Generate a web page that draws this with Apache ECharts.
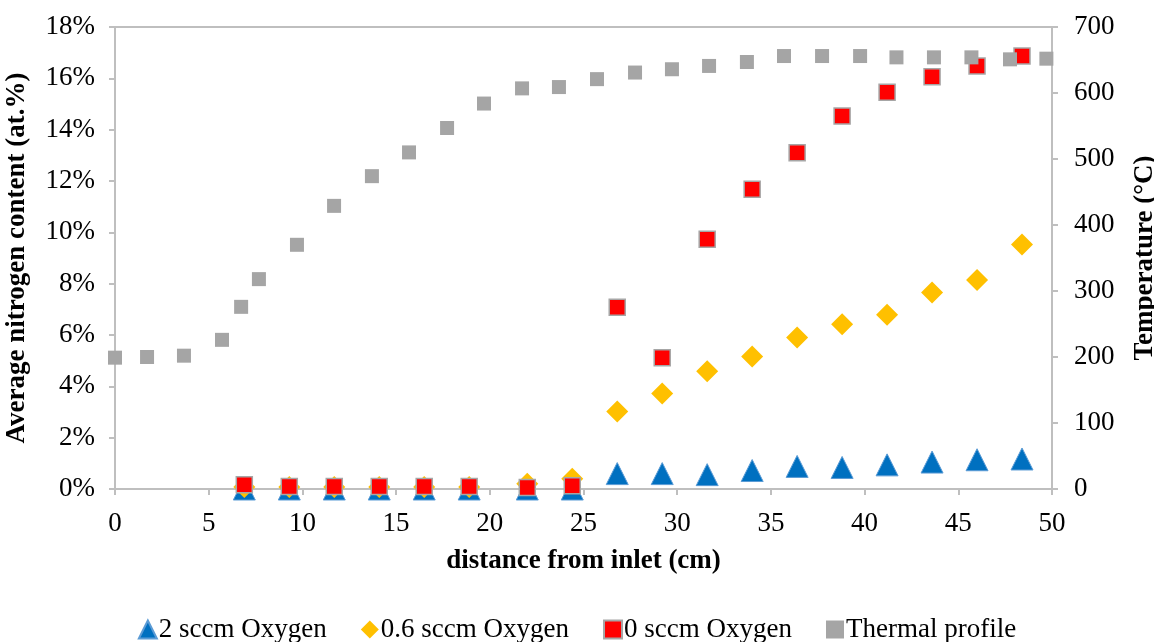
<!DOCTYPE html>
<html>
<head>
<meta charset="utf-8">
<script src="https://cdn.jsdelivr.net/npm/echarts@6/dist/echarts.min.js"></script>
<style>html,body{margin:0;padding:0;background:#fff}#c{width:1154px;height:642px}</style>
</head>
<body>
<div id="c"></div>
<script>
const seriesNames = ['2 sccm Oxygen', '0.6 sccm Oxygen', '0 sccm Oxygen', 'Thermal profile'];
const sampleX = [6.9, 9.3, 11.7, 14.1, 16.5, 18.9, 22.0, 24.4, 26.8, 29.2, 31.6, 34.0, 36.4, 38.8, 41.2, 43.6, 46.0, 48.4];
const oxygen2 = [0, 0, 0, 0, 0, 0, 0, 0, 0.6, 0.6, 0.56, 0.72, 0.88, 0.84, 0.94, 1.05, 1.14, 1.17];
const oxygen06 = [0.08, 0.08, 0.08, 0.08, 0.08, 0.08, 0.2, 0.4, 3.02, 3.72, 4.59, 5.16, 5.9, 6.42, 6.79, 7.66, 8.14, 9.53];
const oxygen0 = [0.17, 0.1, 0.1, 0.1, 0.1, 0.1, 0.06, 0.13, 7.08, 5.11, 9.73, 11.68, 13.1, 14.53, 15.46, 16.06, 16.48, 16.87];
const thermalX = [0, 1.71, 3.68, 5.71, 6.73, 7.68, 9.71, 11.69, 13.71, 15.69, 17.72, 19.69, 21.72, 23.69, 25.72, 27.75, 29.72, 31.7, 33.72, 35.7, 37.73, 39.76, 41.7, 43.7, 45.7, 47.76, 49.7];
const thermalT = [199, 200, 202, 226, 276, 318, 370, 429, 474, 510, 547, 584, 607, 609, 621, 631, 636, 641, 647, 656, 656, 656, 654, 654, 654, 651, 652];

const FONT = "'Liberation Serif', 'Times New Roman', serif";
const FS = 27;
const AXC = '#bfbfbf';
const pair = (xs, ys) => xs.map((x, i) => [x, ys[i]]);

const chart = echarts.init(document.getElementById('c'), null, {renderer: 'canvas'});
chart.setOption({
  animation: false,
  textStyle: {fontFamily: FONT, color: '#000'},
  grid: {left: 115, right: 102, top: 27, bottom: 153, show: true, borderColor: AXC, borderWidth: 2,
         containLabel: false, outerBoundsMode: 'none'},
  legend: {
    top: 611, left: 'center', itemGap: 34, itemWidth: 18, itemHeight: 18,
    textStyle: {fontFamily: FONT, fontSize: FS, color: '#000', padding: [0, 0, 0, -3]},
    data: [
      {name: seriesNames[0], icon: 'triangle'},
      {name: seriesNames[1], icon: 'diamond'},
      {name: seriesNames[2], icon: 'rect'},
      {name: seriesNames[3], icon: 'rect'}
    ]
  },
  xAxis: {
    type: 'value', min: 0, max: 50, interval: 5,
    name: 'distance from inlet (cm)', nameLocation: 'middle', nameGap: 59,
    nameTextStyle: {fontFamily: FONT, fontSize: FS, fontWeight: 'bold', color: '#000'},
    axisLine: {show: true, lineStyle: {color: AXC, width: 2}},
    axisTick: {show: true, length: 6, lineStyle: {color: AXC, width: 2}},
    axisLabel: {fontFamily: FONT, fontSize: FS, color: '#000', margin: 21},
    splitLine: {show: false}
  },
  yAxis: [
    {
      type: 'value', min: 0, max: 18, interval: 2, position: 'left',
      name: 'Average nitrogen content (at.%)', nameLocation: 'middle', nameGap: 84, nameRotate: 90,
      nameTextStyle: {fontFamily: FONT, fontSize: FS, fontWeight: 'bold', color: '#000'},
      axisLine: {show: true, lineStyle: {color: AXC, width: 2}},
      axisTick: {show: true, length: 6, lineStyle: {color: AXC, width: 2}},
      axisLabel: {fontFamily: FONT, fontSize: FS, color: '#000', margin: 20, formatter: v => v + '%'},
      splitLine: {show: false}
    },
    {
      type: 'value', min: 0, max: 700, interval: 100, position: 'right',
      name: 'Temperature (°C)', nameLocation: 'middle', nameGap: 80, nameRotate: 90,
      nameTextStyle: {fontFamily: FONT, fontSize: FS, fontWeight: 'bold', color: '#000'},
      axisLine: {show: true, lineStyle: {color: AXC, width: 2}},
      axisTick: {show: true, length: 6, lineStyle: {color: AXC, width: 2}},
      axisLabel: {fontFamily: FONT, fontSize: FS, color: '#000', margin: 22},
      splitLine: {show: false}
    }
  ],
  series: [
    {
      name: seriesNames[0], type: 'scatter', yAxisIndex: 0, symbol: 'triangle', symbolSize: 22,
      itemStyle: {color: '#0070c0', borderColor: '#5b9bd5', borderWidth: 1, opacity: 1},
      data: pair(sampleX, oxygen2), z: 2
    },
    {
      name: seriesNames[1], type: 'scatter', yAxisIndex: 0, symbol: 'diamond', symbolSize: 22,
      itemStyle: {color: '#ffc000', opacity: 1},
      data: pair(sampleX, oxygen06), z: 3
    },
    {
      name: seriesNames[2], type: 'scatter', yAxisIndex: 0, symbol: 'rect', symbolSize: 16,
      itemStyle: {color: '#ff0000', borderColor: '#a6a6a6', borderWidth: 1.5, opacity: 1},
      data: pair(sampleX, oxygen0), z: 4
    },
    {
      name: seriesNames[3], type: 'scatter', yAxisIndex: 1, symbol: 'rect', symbolSize: 14,
      itemStyle: {color: '#a5a5a5', opacity: 1},
      data: pair(thermalX, thermalT), z: 5
    }
  ]
});
</script>
</body>
</html>
